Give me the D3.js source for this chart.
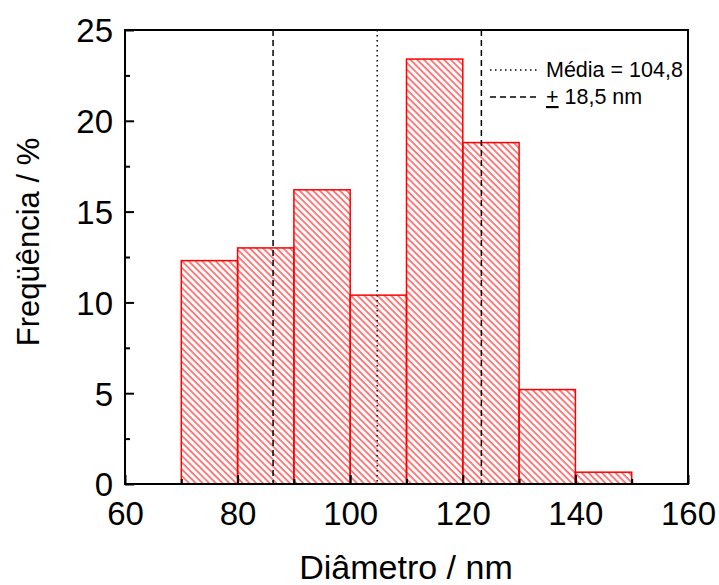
<!DOCTYPE html>
<html><head><meta charset="utf-8">
<script src="https://cdn.jsdelivr.net/npm/d3@7"></script>
<style>body{margin:0;background:#fff}svg{display:block;font-family:"Liberation Sans",Arial,sans-serif}</style>
</head><body>
<svg id="c" width="719" height="585"></svg>
<script>
const binStarts = [70, 80, 90, 100, 110, 120, 130, 140];
const binWidth = 10;
const frequencies = [12.3, 13.0, 16.2, 10.4, 23.4, 18.8, 5.2, 0.65];
const meanValue = 104.8;
const stdValue = 18.5;
const xTicks = [60, 80, 100, 120, 140, 160];
const yTicks = [0, 5, 10, 15, 20, 25];
const legendLabels = ["Média = 104,8", "18,5 nm"];

const svg = d3.select("#c");
const L = 125, R = 688, T = 30, B = 484;
const x = d3.scaleLinear().domain([60, 160]).range([L, R]);
const y = d3.scaleLinear().domain([0, 25]).range([B, T]);

const defs = svg.append("defs");
const pat = defs.append("pattern").attr("id", "hatch").attr("patternUnits", "userSpaceOnUse")
  .attr("width", 4.75).attr("height", 10).attr("patternTransform", "rotate(-45)");
pat.append("line").attr("x1", 1).attr("y1", 0).attr("x2", 1).attr("y2", 10)
  .attr("stroke", "#ff0000").attr("stroke-width", 1);

// bars
svg.append("g").selectAll("rect").data(binStarts).join("rect")
  .attr("x", d => x(d)).attr("width", d => x(d + binWidth) - x(d))
  .attr("y", (d, i) => y(frequencies[i])).attr("height", (d, i) => y(0) - y(frequencies[i]))
  .attr("fill", "url(#hatch)").attr("stroke", "#ff0000").attr("stroke-width", 1.5);

// vertical lines
const lines = [
  {v: meanValue - stdValue, dash: "6,4"},
  {v: meanValue, dash: "1.5,3.5"},
  {v: meanValue + stdValue, dash: "6,4"}
];
svg.append("g").selectAll("line").data(lines).join("line")
  .attr("x1", d => x(d.v)).attr("x2", d => x(d.v)).attr("y1", y(25)).attr("y2", y(0))
  .attr("stroke", "#000").attr("stroke-width", 1.5).attr("stroke-dasharray", d => d.dash);

// frame
svg.append("rect").attr("x", L).attr("y", T).attr("width", R - L).attr("height", B - T)
  .attr("fill", "none").attr("stroke", "#000").attr("stroke-width", 2);

// axes
const xAxis = d3.axisBottom(x).tickValues(xTicks).tickSize(-9).tickPadding(18).tickFormat(d3.format("d"));
const gx = svg.append("g").attr("transform", `translate(0,${B})`).call(xAxis);
const xMinor = d3.axisBottom(x).tickValues(d3.range(70, 160, 20)).tickSize(-5).tickFormat("");
svg.append("g").attr("transform", `translate(0,${B})`).call(xMinor);
const yAxis = d3.axisLeft(y).tickValues(yTicks).tickSize(-9).tickPadding(12).tickFormat(d3.format("d"));
const gy = svg.append("g").attr("transform", `translate(${L},0)`).call(yAxis);
const yMinor = d3.axisLeft(y).tickValues(d3.range(2.5, 25, 5)).tickSize(-5).tickFormat("");
svg.append("g").attr("transform", `translate(${L},0)`).call(yMinor);
svg.selectAll(".domain").remove();
svg.selectAll(".tick line").attr("stroke", "#000").attr("stroke-width", 2);
svg.selectAll(".tick text").attr("font-size", 33).attr("fill", "#000")
  .attr("font-family", "Liberation Sans, Arial, sans-serif");
gy.selectAll(".tick text").attr("dy", "0.36em");

// axis titles
svg.append("text").attr("x", 406).attr("y", 579).attr("text-anchor", "middle")
  .attr("font-size", 34).text("Diâmetro / nm");
svg.append("text").attr("transform", "translate(39,242) rotate(-90)").attr("text-anchor", "middle")
  .attr("font-size", 31).text("Freqüência / %");

// legend
const lg = svg.append("g");
lg.append("line").attr("x1", 490).attr("x2", 540).attr("y1", 70).attr("y2", 70)
  .attr("stroke", "#000").attr("stroke-width", 1.5).attr("stroke-dasharray", "1.5,3.5");
lg.append("text").attr("x", 546).attr("y", 77).attr("font-size", 21.5).text(legendLabels[0]);
lg.append("line").attr("x1", 490).attr("x2", 540).attr("y1", 97).attr("y2", 97)
  .attr("stroke", "#000").attr("stroke-width", 1.5).attr("stroke-dasharray", "6,4");
const t2 = lg.append("text").attr("x", 546).attr("y", 104).attr("font-size", 21.5);
t2.append("tspan").attr("text-decoration", "underline").text("+");
t2.append("tspan").text(" " + legendLabels[1]);
</script>
</body></html>
